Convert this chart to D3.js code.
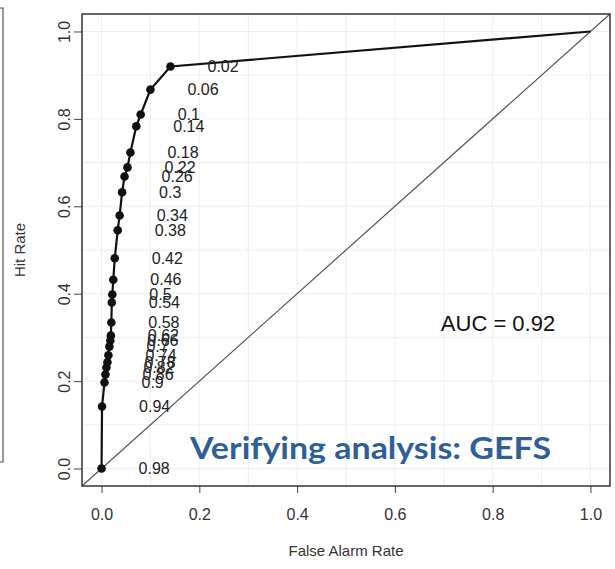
<!DOCTYPE html>
<html>
<head>
<meta charset="utf-8">
<script src="https://cdn.jsdelivr.net/npm/d3@7"></script>
<style>
  body { margin: 0; background: #fff; }
  svg { display: block; }
</style>
</head>
<body>
<svg></svg>
<script>
// thresholds and the ROC points
var thresholds = ["0.02","0.06","0.1","0.14","0.18","0.22","0.26","0.3","0.34","0.38","0.42","0.46","0.5",
                  "0.54","0.58","0.62","0.66","0.7","0.74","0.78","0.82","0.86","0.9","0.94","0.98"];
var falseAlarm = [0.141,0.100,0.080,0.071,0.059,0.053,0.047,0.042,0.037,0.033,0.027,0.024,0.022,
                  0.021,0.020,0.019,0.018,0.016,0.014,0.012,0.010,0.008,0.006,0.001,0.000];
var hitRate    = [0.920,0.867,0.810,0.783,0.723,0.689,0.668,0.632,0.579,0.545,0.481,0.432,0.398,
                  0.380,0.334,0.304,0.293,0.279,0.259,0.243,0.231,0.215,0.197,0.142,0.000];
var tickValues = [0, 0.2, 0.4, 0.6, 0.8, 1.0];
var gridValues = [0,0.1,0.2,0.3,0.4,0.5,0.6,0.7,0.8,0.9,1.0];
var aucLabel = "AUC = 0.92";
var titleLabel = "Verifying analysis: GEFS";

var screen = { width: 615, height: 569 };
var box = { left: 82, right: 610, top: 14, bottom: 486 };

var svg = d3.select("svg")
            .attr("width", screen.width)
            .attr("height", screen.height);

// R style: axis range extended 4% each side
var xScale = d3.scaleLinear().domain([-0.04, 1.04]).range([box.left, box.right]);
var yScale = d3.scaleLinear().domain([-0.04, 1.04]).range([box.bottom, box.top]);

// bit of the neighbouring panel on the left edge
svg.append("path")
   .attr("d", "M0,8 H3 V462 H0")
   .attr("fill", "none")
   .attr("stroke", "#555")
   .attr("stroke-width", 1.2);

// faint grid
var grid = svg.append("g").attr("stroke", "#eeeeee").attr("stroke-width", 1);
grid.selectAll("line.v")
    .data(gridValues)
    .enter()
    .append("line")
    .attr("x1", function(d){ return xScale(d); })
    .attr("x2", function(d){ return xScale(d); })
    .attr("y1", box.top)
    .attr("y2", box.bottom);
grid.selectAll("line.h")
    .data(gridValues)
    .enter()
    .append("line")
    .attr("y1", function(d){ return yScale(d); })
    .attr("y2", function(d){ return yScale(d); })
    .attr("x1", box.left)
    .attr("x2", box.right);

// axes
var xAxis = d3.axisBottom(xScale).tickValues(tickValues).tickSize(7).tickPadding(16)
              .tickFormat(d3.format(".1f"));
var yAxis = d3.axisLeft(yScale).tickValues(tickValues).tickSize(8).tickPadding(6)
              .tickFormat(d3.format(".1f"));

var gx = svg.append("g")
            .attr("transform", "translate(0," + box.bottom + ")")
            .call(xAxis);
var gy = svg.append("g")
            .attr("transform", "translate(" + box.left + ",0)")
            .call(yAxis);

[gx, gy].forEach(function(g){
  g.select(".domain").remove();
  g.selectAll(".tick line").attr("stroke", "#444");
  g.selectAll(".tick text")
   .attr("fill", "#333")
   .style("font-family", "Liberation Sans, Arial, sans-serif")
   .style("font-size", "16px");
});
gy.selectAll(".tick text")
  .attr("text-anchor", "middle")
  .attr("x", 0)
  .attr("dy", 0)
  .attr("transform", function(){ return "translate(-18,0) rotate(-90)"; })
  .attr("dominant-baseline", "central");

// axis titles
svg.append("text")
   .attr("x", (box.left + box.right) / 2)
   .attr("y", 556)
   .attr("text-anchor", "middle")
   .attr("fill", "#333")
   .style("font-family", "Liberation Sans, Arial, sans-serif")
   .style("font-size", "15px")
   .text("False Alarm Rate");
svg.append("text")
   .attr("transform", "translate(25," + ((box.top + box.bottom) / 2) + ") rotate(-90)")
   .attr("text-anchor", "middle")
   .attr("fill", "#333")
   .style("font-family", "Liberation Sans, Arial, sans-serif")
   .style("font-size", "15px")
   .text("Hit Rate");

// diagonal across the whole plot region
svg.append("line")
   .attr("x1", xScale(-0.04)).attr("y1", yScale(-0.04))
   .attr("x2", xScale(1.04)).attr("y2", yScale(1.04))
   .attr("stroke", "#555")
   .attr("stroke-width", 1.2);

// ROC curve
var points = thresholds.map(function(t, i){
  return { t: t, x: falseAlarm[i], y: hitRate[i] };
});
var linePts = [{ x: 1, y: 1 }].concat(points).concat([{ x: 0, y: 0 }]);

var line = d3.line()
             .x(function(d){ return xScale(d.x); })
             .y(function(d){ return yScale(d.y); });

svg.append("path")
   .datum(linePts)
   .attr("d", line)
   .attr("fill", "none")
   .attr("stroke", "#111")
   .attr("stroke-width", 2.2);

svg.selectAll("circle.pt")
   .data(points)
   .enter()
   .append("circle")
   .attr("cx", function(d){ return xScale(d.x); })
   .attr("cy", function(d){ return yScale(d.y); })
   .attr("r", 4.3)
   .attr("fill", "#111");

// threshold labels overlap in the reference too
svg.selectAll("text.thr")
   .data(points)
   .enter()
   .append("text")
   .attr("x", function(d){ return xScale(d.x) + 37; })
   .attr("y", function(d){ return yScale(d.y); })
   .attr("dominant-baseline", "central")
   .attr("fill", "#222")
   .style("font-family", "Liberation Sans, Arial, sans-serif")
   .style("font-size", "16px")
   .text(function(d){ return d.t; });

// AUC
svg.append("text")
   .attr("x", 498)
   .attr("y", 323)
   .attr("text-anchor", "middle")
   .attr("dominant-baseline", "central")
   .attr("fill", "#111")
   .style("font-family", "Liberation Sans, Arial, sans-serif")
   .style("font-size", "22px")
   .text(aucLabel);

// overlay title
svg.append("text")
   .attr("x", 190)
   .attr("y", 459)
   .attr("fill", "#2F5F98")
   .attr("textLength", 361)
   .attr("lengthAdjust", "spacingAndGlyphs")
   .style("font-family", "Lato, 'Open Sans', sans-serif")
   .style("font-weight", "bold")
   .style("font-size", "31px")
   .text(titleLabel);

// plot box
svg.append("rect")
   .attr("x", box.left)
   .attr("y", box.top)
   .attr("width", box.right - box.left)
   .attr("height", box.bottom - box.top)
   .attr("fill", "none")
   .attr("stroke", "#333")
   .attr("stroke-width", 1.5);
</script>
</body>
</html>
